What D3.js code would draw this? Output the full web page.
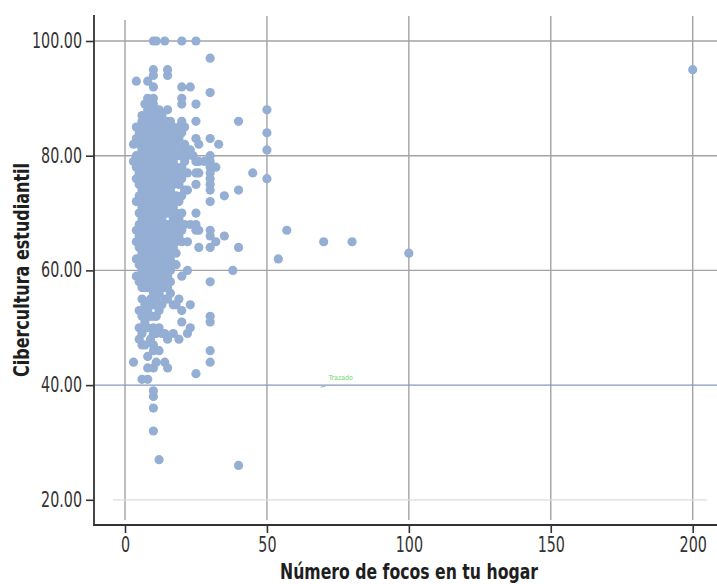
<!DOCTYPE html>
<html>
<head>
<meta charset="utf-8">
<script src="https://cdn.jsdelivr.net/npm/d3@7"></script>
<style>
  html, body { margin: 0; padding: 0; background: #fff; }
  svg { display: block; }
</style>
</head>
<body>
<svg id="chart" width="717" height="584"></svg>
<script>
// ---- Data ----
const xTicks = [0, 50, 100, 150, 200];
const yTicks = [20, 40, 60, 80, 100];
const xTitle = "Número de focos en tu hogar";
const yTitle = "Cibercultura estudiantil";
const refValue = 40;
const refLabel = "Trazado";

// number of light bulbs (x) and the cibercultura scores observed at that x
const focos = [3, 4, 5, 6, 7, 8, 9, 10, 11, 12, 13, 14, 15, 16, 17, 18, 19, 20, 21, 22, 23, 24, 25, 26, 28, 30, 32, 33, 35, 38, 40, 45, 50, 54, 57, 70, 80, 100, 200];
const puntajes = [
  [82, 79, 44],
  [93, 85, 83, 80, 78, 76, 72, 67, 65, 62, 59],
  [85, 84, 82, 80, 79, 77, 75, 73, 70, 68, 66, 64, 62, 61, 58, 53, 50, 48],
  [87, 86, 84, 83, 81, 80, 78, 77, 76, 74, 73, 71, 70, 69, 67, 66, 65, 64, 63, 62, 60, 59, 57, 55, 52, 49, 47, 41],
  [89, 87, 85, 83, 82, 81, 79, 78, 77, 75, 74, 72, 71, 70, 68, 67, 66, 65, 64, 62, 61, 60, 58, 57, 54, 51, 47],
  [93, 90, 88, 86, 85, 84, 83, 82, 80, 79, 78, 76, 75, 74, 73, 72, 71, 69, 68, 67, 66, 65, 64, 63, 62, 61, 60, 58, 57, 53, 50, 45, 43, 41],
  [89, 88, 87, 86, 84, 83, 81, 80, 79, 77, 76, 75, 74, 73, 71, 70, 69, 68, 66, 65, 64, 63, 62, 60, 59, 58, 55, 52, 48],
  [100, 95, 94, 92, 90, 89, 88, 87, 86, 85, 84, 83, 82, 81, 80, 79, 78, 77, 76, 75, 74, 73, 72, 71, 70, 69, 68, 67, 66, 65, 64, 63, 62, 61, 60, 59, 58, 57, 56, 54, 52, 50, 49, 47, 46, 43, 39, 38, 36, 32],
  [100, 87, 85, 83, 81, 79, 78, 76, 74, 73, 71, 70, 68, 67, 65, 64, 63, 61, 60, 58, 57, 55, 52, 49, 44],
  [88, 86, 84, 82, 80, 79, 77, 75, 74, 72, 71, 70, 69, 67, 66, 65, 64, 63, 62, 60, 59, 57, 56, 53, 50, 46, 27],
  [87, 85, 83, 81, 79, 77, 76, 75, 73, 71, 69, 68, 67, 66, 65, 63, 62, 61, 59, 58, 54, 49],
  [100, 86, 84, 82, 80, 78, 76, 74, 73, 72, 70, 68, 67, 66, 64, 63, 61, 60, 58, 57, 55, 49, 44],
  [95, 94, 88, 86, 85, 83, 81, 80, 79, 77, 75, 73, 71, 70, 68, 67, 66, 65, 64, 62, 61, 59, 57, 55, 48, 43],
  [86, 84, 82, 80, 78, 76, 74, 72, 70, 68, 67, 66, 65, 63, 62, 60, 58, 56],
  [85, 83, 81, 79, 77, 75, 73, 71, 69, 67, 66, 64, 61, 54, 49],
  [84, 82, 80, 78, 76, 73, 70, 68, 67, 65, 63, 61, 54],
  [85, 83, 80, 77, 75, 72, 69, 66, 55, 48],
  [100, 92, 90, 89, 86, 84, 81, 78, 76, 73, 70, 67, 65, 59, 53, 51],
  [85, 82, 79, 74, 68],
  [80, 77, 74, 65, 60, 49],
  [92, 81, 68, 54, 50],
  [80],
  [100, 89, 86, 83, 79, 77, 75, 70, 68, 67, 42],
  [82, 79, 77, 67, 64],
  [79],
  [97, 91, 83, 80, 79, 78, 77, 76, 75, 74, 72, 67, 66, 64, 58, 52, 51, 46, 44],
  [78, 65],
  [82],
  [73, 66],
  [60],
  [86, 74, 64, 26],
  [77],
  [88, 84, 81, 76],
  [62],
  [67],
  [65],
  [65],
  [63],
  [95]
];

// ---- Build point table ----
const points = [];
focos.forEach((f, i) => puntajes[i].forEach(v => points.push({x: f, y: v})));

// ---- Layout ----
const axisLeftX = 94, axisBottomY = 525, axisTopY = 15, axisRightX = 717;
const x = d3.scaleLinear().domain([0, 200]).range([125, 692.7]);
const y = d3.scaleLinear().domain([20, 100]).range([499.8, 41]);

const svg = d3.select("#chart");
const tickFont = "'Liberation Sans Narrow', 'DejaVu Sans Condensed', 'Roboto Condensed', sans-serif";
// approximate rendered label width in the reference (condensed digits)
const labelWidth = s => s.split("").reduce((w, c) => w + (c === "." ? 4.5 : 9.1), 0);

// grid: vertical lines
svg.append("g").selectAll("line").data(xTicks).join("line")
  .attr("x1", d => x(d)).attr("x2", d => x(d))
  .attr("y1", d => d === 0 ? 20 : 16).attr("y2", 520)
  .attr("stroke", "#a3a3a3").attr("stroke-width", 1.4);

// grid: horizontal lines
svg.append("g").selectAll("line").data(yTicks).join("line")
  .attr("x1", d => d === 20 ? 113 : axisLeftX).attr("x2", d => d === 20 ? 707 : axisRightX)
  .attr("y1", d => y(d)).attr("y2", d => y(d))
  .attr("stroke", d => d === refValue ? "#8798bd" : (d === 20 ? "#dcdcdc" : "#a3a3a3"))
  .attr("stroke-width", d => d === 20 ? 1.2 : 1.4);

// points
svg.append("g").selectAll("circle").data(points).join("circle")
  .attr("cx", d => x(d.x)).attr("cy", d => y(d.y))
  .attr("r", 4.6)
  .attr("fill", "#94aed4");

// reference line label
svg.append("line")
  .attr("x1", x(70) - 3).attr("x2", x(70) + 2)
  .attr("y1", y(refValue) + 2).attr("y2", y(refValue) + 1)
  .attr("stroke", "#8fbf8f").attr("stroke-width", 1);
svg.append("text")
  .attr("x", x(70) + 5).attr("y", y(refValue) - 5)
  .attr("font-family", tickFont).attr("font-size", 7)
  .attr("fill", "#72d672")
  .text(refLabel);

// axes
const yAxis = d3.axisLeft(y).tickValues(yTicks).tickFormat(d3.format(".2f")).tickSize(8).tickPadding(4);
const gy = svg.append("g").attr("transform", `translate(${axisLeftX},0)`).call(yAxis);
gy.select(".domain").remove();
gy.selectAll(".tick line").attr("stroke", "#333").attr("stroke-width", 1.6);
gy.selectAll(".tick text").attr("font-family", tickFont).attr("font-size", 20.5).attr("fill", "#333")
  .attr("textLength", function () { return labelWidth(this.textContent); })
  .attr("lengthAdjust", "spacingAndGlyphs");

const xAxis = d3.axisBottom(x).tickValues(xTicks).tickFormat(d3.format("d")).tickSize(8).tickPadding(4);
const gx = svg.append("g").attr("transform", `translate(0,${axisBottomY})`).call(xAxis);
gx.select(".domain").remove();
gx.selectAll(".tick line").attr("stroke", "#333").attr("stroke-width", 1.6);
gx.selectAll(".tick text").attr("font-family", tickFont).attr("font-size", 20.5).attr("fill", "#333")
  .attr("textLength", function () { return labelWidth(this.textContent); })
  .attr("lengthAdjust", "spacingAndGlyphs");

svg.append("line").attr("x1", axisLeftX).attr("x2", axisLeftX)
  .attr("y1", axisTopY).attr("y2", axisBottomY + 0.8)
  .attr("stroke", "#333").attr("stroke-width", 1.8);
svg.append("line").attr("x1", axisLeftX - 0.9).attr("x2", axisRightX)
  .attr("y1", axisBottomY).attr("y2", axisBottomY)
  .attr("stroke", "#333").attr("stroke-width", 1.8);

// titles
svg.append("text")
  .attr("x", 409).attr("y", 579)
  .attr("text-anchor", "middle")
  .attr("font-family", tickFont).attr("font-weight", "bold").attr("font-size", 21)
  .attr("fill", "#1e1e1e")
  .attr("textLength", 258).attr("lengthAdjust", "spacingAndGlyphs")
  .text(xTitle);

svg.append("text")
  .attr("transform", "translate(29,270) rotate(-90)")
  .attr("text-anchor", "middle")
  .attr("font-family", tickFont).attr("font-weight", "bold").attr("font-size", 21)
  .attr("fill", "#1e1e1e")
  .attr("textLength", 214).attr("lengthAdjust", "spacingAndGlyphs")
  .text(yTitle);
</script>
</body>
</html>
